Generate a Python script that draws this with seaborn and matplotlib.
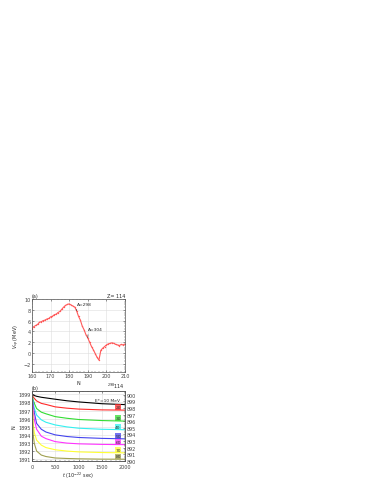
import matplotlib
matplotlib.use("Agg")
import matplotlib.pyplot as plt
import seaborn as sns
import pandas as pd
import numpy as np

# ---- Panel (a) data ----
N_vals = list(range(160, 211))
V_vals = [4.5, 4.9, 5.1, 5.3, 5.7, 5.8, 6.0, 6.1, 6.3, 6.4,
          6.7, 6.8, 7.1, 7.2, 7.5, 7.7, 8.1, 8.5, 8.8, 9.0,
          9.1, 8.9, 8.7, 8.5, 7.8, 6.8, 6.1, 5.0, 4.3, 3.4,
          2.8, 2.0, 1.2, 0.6, -0.1, -0.8, -1.3, 0.5, 0.9, 1.2,
          1.5, 1.7, 1.8, 1.9, 1.8, 1.6, 1.5, 1.4, 1.6, 1.5, 1.7]

# ---- Panel (b) data ----
t_vals = [0, 25, 50, 100, 200, 300, 500, 750, 1000, 1500, 2000]
curve_labels = ["10", "20", "30", "40", "50", "60", "70", "80"]
c10 = [1899.00, 1898.91, 1898.84, 1898.75, 1898.63, 1898.55, 1898.39, 1898.20, 1898.06, 1897.84, 1897.73]
c20 = [1899.00, 1898.67, 1898.49, 1898.18, 1897.88, 1897.75, 1897.45, 1897.29, 1897.18, 1897.08, 1897.05]
c30 = [1899.00, 1898.30, 1897.88, 1897.24, 1896.80, 1896.60, 1896.25, 1896.05, 1895.90, 1895.77, 1895.70]
c40 = [1899.00, 1897.94, 1897.27, 1896.44, 1895.86, 1895.56, 1895.23, 1894.99, 1894.83, 1894.70, 1894.64]
c50 = [1899.00, 1897.57, 1896.72, 1895.41, 1894.70, 1894.36, 1894.01, 1893.81, 1893.69, 1893.58, 1893.52]
c60 = [1899.00, 1896.96, 1895.86, 1894.70, 1893.85, 1893.55, 1893.18, 1893.00, 1892.91, 1892.84, 1892.81]
c70 = [1899.00, 1895.38, 1894.28, 1893.36, 1892.75, 1892.45, 1892.18, 1892.02, 1891.92, 1891.84, 1891.80]
c80 = [1899.00, 1894.03, 1892.94, 1892.02, 1891.53, 1891.35, 1891.17, 1891.11, 1891.07, 1891.03, 1891.02]
curves = [c10, c20, c30, c40, c50, c60, c70, c80]
colors = ["#000000", "#ff2a2a", "#33dd33", "#33f0f0", "#4444ee", "#ff33ff", "#ffff33", "#a0a050"]
left_ticks = [1891, 1892, 1893, 1894, 1895, 1896, 1897, 1898, 1899]
right_ticks = [890, 891, 892, 893, 894, 895, 896, 897, 898, 899, 900]

sns.set_theme(style="ticks")
plt.rcParams['font.family'] = ['DejaVu Sans']
FS = 3.5
plt.rcParams.update({
    'xtick.direction': 'in', 'ytick.direction': 'in',
    'xtick.major.size': 1.5, 'ytick.major.size': 1.5,
    'xtick.minor.size': 0.8, 'ytick.minor.size': 0.8,
    'xtick.major.width': 0.4, 'ytick.major.width': 0.4,
    'xtick.minor.width': 0.3, 'ytick.minor.width': 0.3,
    'xtick.major.pad': 1.0, 'ytick.major.pad': 1.0,
    'axes.linewidth': 0.5, 'axes.edgecolor': '#555555',
    'xtick.color': '#444444', 'ytick.color': '#444444',
})

fig = plt.figure(figsize=(3.74, 4.85), dpi=100)
ax1 = fig.add_axes([32/374, 1-373/485, 93/374, 73/485])
ax2 = fig.add_axes([32/374, 1-462/485, 93/374, 70/485])

# Panel (a)
dfa = pd.DataFrame({"N": N_vals, "V": V_vals})
sns.lineplot(data=dfa, x="N", y="V", ax=ax1, color="#ff5a5a", lw=0.8,
             marker="o", markersize=1.0, markeredgewidth=0)
ax1.set_xlim(160, 210)
ax1.set_ylim(-3.5, 10)
ax1.set_xticks(range(160, 211, 10))
ax1.set_yticks([-2, 0, 2, 4, 6, 8, 10])
ax1.grid(True, color="#dddddd", lw=0.4)
ax1.set_axisbelow(True)
ax1.set_xlabel("N", fontsize=FS, labelpad=1)
ax1.set_ylabel(r"$V_{sp}$ (MeV)", fontsize=FS, labelpad=1)
ax1.tick_params(labelsize=FS, top=True, right=True, which="both")
ax1.minorticks_on()
ax1.text(0.0, 1.02, "(a)", transform=ax1.transAxes, fontsize=FS, ha="left", va="bottom")
ax1.text(1.0, 1.02, "Z= 114", transform=ax1.transAxes, fontsize=FS, ha="right", va="bottom")
ax1.annotate("A=298", xy=(184, 7.8), xytext=(184.3, 9.1), fontsize=FS*0.9,
             ha="left", va="center",
             arrowprops=dict(arrowstyle="-", color="#333333", lw=0.4, shrinkA=0, shrinkB=0,
                             relpos=(0, 0.5)))
ax1.annotate("A=304", xy=(190, 2.8), xytext=(190.3, 4.4), fontsize=FS*0.9,
             ha="left", va="center",
             arrowprops=dict(arrowstyle="-", color="#333333", lw=0.4, shrinkA=0, shrinkB=0,
                             relpos=(0, 0.5)))

# Panel (b)
rows = []
for lab, vals in zip(curve_labels, curves):
    for t, v in zip(t_vals, vals):
        rows.append({"t": t, "v": v, "E": lab})
dfb = pd.DataFrame(rows)
sns.lineplot(data=dfb, x="t", y="v", hue="E", palette=colors, ax=ax2, lw=0.8, legend=False)
ax2.set_xlim(0, 2000)
ax2.set_ylim(1890.8, 1899.4)
ax2.set_xticks([0, 500, 1000, 1500, 2000])
ax2.set_yticks(left_ticks)
ax2.grid(True, color="#dddddd", lw=0.4)
ax2.set_axisbelow(True)
ax2.set_xlabel(r"$t$ ($10^{-22}$ sec)", fontsize=FS, labelpad=1)
ax2.set_ylabel("N", fontsize=FS, labelpad=1)
ax2.tick_params(labelsize=FS, top=True, which="both")
ax2.tick_params(axis="x", pad=2.0)
ax2.minorticks_on()
ax2.text(0.0, 1.02, "(b)", transform=ax2.transAxes, fontsize=FS, ha="left", va="bottom")
ax2.text(1.0, 1.02, r"$^{298}$114", transform=ax2.transAxes, fontsize=FS, ha="right", va="bottom")
ax2.text(1900, 1898.0, "E*=10 MeV", fontsize=FS*0.9, ha="right", va="bottom")
for lab, vals, col in zip(curve_labels[1:], curves[1:], colors[1:]):
    ax2.text(1850, vals[-1] + 0.12, lab, fontsize=FS*0.9, ha="center", va="bottom",
             color="#333333",
             bbox=dict(boxstyle="square,pad=0.15", fc=col, ec="none", alpha=0.75))

ax3 = ax2.twinx()
ax3.set_ylim(890, 900.56)
ax3.set_yticks(right_ticks)
ax3.tick_params(labelsize=FS, direction="in", which="both")
ax3.minorticks_on()
for s in ax3.spines.values():
    s.set_linewidth(0.5)
    s.set_edgecolor("#555555")

fig.savefig("out.png", dpi=100)
